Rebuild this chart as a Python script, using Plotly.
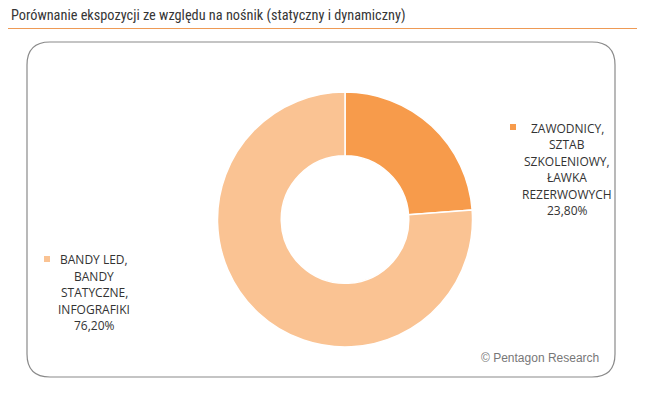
import plotly.graph_objects as go

W, H = 645, 397

right_lines = ["ZAWODNICY,", "SZTAB", "SZKOLENIOWY,", "ŁAWKA", "REZERWOWYCH"]
left_lines = ["BANDY LED,", "BANDY", "STATYCZNE,", "INFOGRAFIKI"]
categories = [" ".join(right_lines), " ".join(left_lines)]
values = [23.8, 76.2]
value_labels = ["23,80%", "76,20%"]
colors = ["#F79B4B", "#FAC393"]
title = "Porównanie ekspozycji ze względu na nośnik (statyczny i dynamiczny)"

def px(x):
    return x / W

def py(y):
    return 1 - y / H

fig = go.Figure()
fig.add_trace(go.Pie(
    labels=categories, values=values, sort=False, direction="clockwise", rotation=0,
    hole=0.5, textinfo="none", hoverinfo="label+percent",
    marker=dict(colors=colors, line=dict(color="white", width=1.5)),
    domain=dict(x=[px(217.5), px(472.5)], y=[py(347), py(92)]),
    showlegend=False,
))

# rounded frame
x0, x1, y0, y1, r = 27, 615, 42, 377, 23
rx, ry = r / W, r / H
X0, X1, Y0, Y1 = px(x0), px(x1), py(y0), py(y1)
path = (f"M {X0+rx},{Y0} L {X1-rx},{Y0} Q {X1},{Y0} {X1},{Y0-ry} "
        f"L {X1},{Y1+ry} Q {X1},{Y1} {X1-rx},{Y1} "
        f"L {X0+rx},{Y1} Q {X0},{Y1} {X0},{Y1+ry} "
        f"L {X0},{Y0-ry} Q {X0},{Y0} {X0+rx},{Y0} Z")
shapes = [
    dict(type="path", xref="paper", yref="paper", path=path,
         line=dict(color="#8a8a8a", width=1.2), fillcolor="rgba(0,0,0,0)"),
    dict(type="line", xref="paper", yref="paper", x0=px(8), x1=px(637),
         y0=py(28.5), y1=py(28.5), line=dict(color="#EE9A55", width=1.2)),
    dict(type="rect", xref="paper", yref="paper", x0=px(510), x1=px(516),
         y0=py(130), y1=py(124), fillcolor=colors[0], line=dict(width=0)),
    dict(type="rect", xref="paper", yref="paper", x0=px(44), x1=px(50),
         y0=py(262), y1=py(256), fillcolor=colors[1], line=dict(width=0)),
]

font = dict(family="Open Sans, Noto Sans, sans-serif", size=12, color="#333333")
annotations = [
    dict(text=title, x=px(9), y=py(15.5), xref="paper", yref="paper",
         xanchor="left", yanchor="middle", showarrow=False,
         font=dict(family="Roboto Condensed, Open Sans, sans-serif", size=14.3,
                   weight=400, color="#363636")),
    dict(text="© Pentagon Research", x=px(601), y=py(358), xref="paper", yref="paper",
         xanchor="right", yanchor="middle", showarrow=False,
         font=dict(family="Liberation Sans, Arial, sans-serif", size=12, color="#777777")),
]
step = 16.5
for i, t in enumerate(right_lines + [value_labels[0]]):
    annotations.append(dict(text=t, x=px(567), y=py(128 + i * step), xref="paper", yref="paper",
                            xanchor="center", yanchor="middle", showarrow=False, font=font))
for i, t in enumerate(left_lines + [value_labels[1]]):
    annotations.append(dict(text=t, x=px(94), y=py(259.5 + i * step), xref="paper", yref="paper",
                            xanchor="center", yanchor="middle", showarrow=False, font=font))

fig.update_layout(
    width=W, height=H, margin=dict(l=0, r=0, t=0, b=0),
    paper_bgcolor="white", plot_bgcolor="white",
    shapes=shapes, annotations=annotations,
)
fig.write_html("out.html", config={"displayModeBar": False},
               post_script="document.body.style.margin='0px';document.body.style.overflow='hidden';")
